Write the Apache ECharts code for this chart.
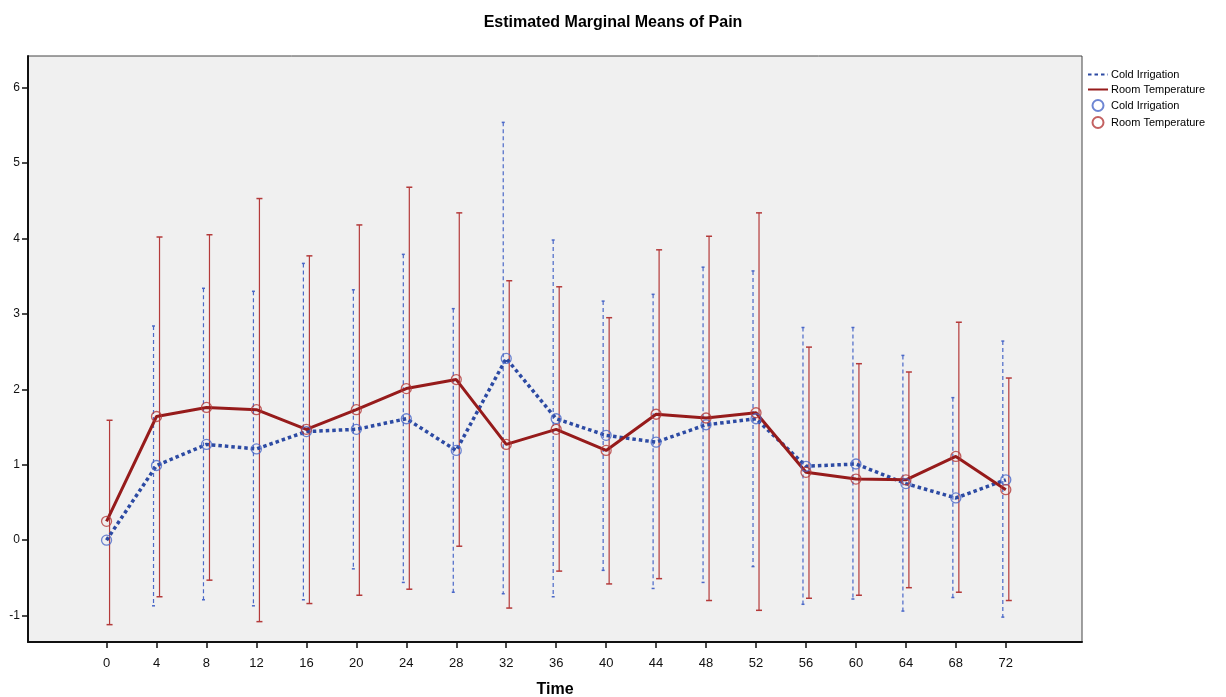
<!DOCTYPE html>
<html>
<head>
<meta charset="utf-8">
<script src="https://cdn.jsdelivr.net/npm/echarts@6/dist/echarts.min.js"></script>
<style>
html,body{margin:0;padding:0;background:#fff;}
#chart{width:1226px;height:697px;}
</style>
</head>
<body>
<div id="chart"></div>
<script>
// ---- data ----
var times = [0, 4, 8, 12, 16, 20, 24, 28, 32, 36, 40, 44, 48, 52, 56, 60, 64, 68, 72];
var coldMean = [0.0, 0.99, 1.27, 1.21, 1.44, 1.47, 1.61, 1.19, 2.41, 1.61, 1.39, 1.30, 1.53, 1.61, 0.98, 1.01, 0.75, 0.56, 0.80];
var roomMean = [0.25, 1.64, 1.76, 1.73, 1.47, 1.73, 2.01, 2.13, 1.27, 1.47, 1.19, 1.67, 1.62, 1.69, 0.90, 0.81, 0.80, 1.11, 0.67];
var coldHi = [null, 2.84, 3.34, 3.30, 3.67, 3.32, 3.79, 3.07, 5.54, 3.98, 3.17, 3.26, 3.62, 3.57, 2.82, 2.82, 2.45, 1.89, 2.64];
var coldLo = [null, -0.87, -0.79, -0.87, -0.79, -0.38, -0.56, -0.69, -0.71, -0.75, -0.40, -0.64, -0.56, -0.35, -0.85, -0.78, -0.94, -0.76, -1.02];
var roomHi = [1.59, 4.02, 4.05, 4.53, 3.77, 4.18, 4.68, 4.34, 3.44, 3.36, 2.95, 3.85, 4.03, 4.34, 2.56, 2.34, 2.23, 2.89, 2.15];
var roomLo = [-1.12, -0.75, -0.53, -1.08, -0.84, -0.73, -0.65, -0.08, -0.90, -0.41, -0.58, -0.51, -0.80, -0.93, -0.77, -0.73, -0.63, -0.69, -0.80];
var yTicks = [-1, 0, 1, 2, 3, 4, 5, 6];
var titleText = 'Estimated Marginal Means of Pain';
var xName = 'Time';
var seriesNames = ['Cold Irrigation', 'Room Temperature'];

// ---- build ----
function pairs(ys) { return times.map(function (t, i) { return [t, ys[i]]; }); }
function bars(lo, hi) {
  var out = [];
  times.forEach(function (t, i) { if (lo[i] != null && hi[i] != null) out.push([t, lo[i], hi[i]]); });
  return out;
}
function errRender(offset, color, dashed, cap) {
  return function (params, api) {
    var x = api.value(0), lo = api.value(1), hi = api.value(2);
    var pH = api.coord([x, hi]), pL = api.coord([x, lo]);
    var px = pH[0] + offset;
    var st = { stroke: color, lineWidth: 1.2, fill: null };
    if (dashed) st.lineDash = [4, 3];
    var cs = { stroke: color, lineWidth: 1.5, fill: null };
    return {
      type: 'group',
      children: [
        { type: 'line', shape: { x1: px, y1: pH[1], x2: px, y2: pL[1] }, style: st },
        { type: 'line', shape: { x1: px - cap, y1: pH[1], x2: px + cap, y2: pH[1] }, style: cs },
        { type: 'line', shape: { x1: px - cap, y1: pL[1], x2: px + cap, y2: pL[1] }, style: cs }
      ]
    };
  };
}

var blueLine = '#2c4aa3', blueMark = '#4a68c8';
var redLine = '#961b1b', redMark = '#b43a3a';
var tickVals = times.slice();
var hidden = { color: 'rgba(0,0,0,0)', borderColor: 'rgba(0,0,0,0)', borderWidth: 0 };

var chart = echarts.init(document.getElementById('chart'));
chart.setOption({
  backgroundColor: '#ffffff',
  animation: false,
  title: {
    text: titleText, left: 'center', top: 10,
    textStyle: { fontFamily: 'Liberation Sans, Arial', fontWeight: 'bold', fontSize: 16, color: '#000' }
  },
  legend: {
    orient: 'vertical', left: 1082, top: 64,
    itemWidth: 20, itemHeight: 11, itemGap: 4,
    textStyle: { fontFamily: 'Liberation Sans, Arial', fontSize: 11, color: '#000', padding: [0, 0, 0, -2] },
    data: [
      { name: seriesNames[0], itemStyle: hidden },
      { name: seriesNames[1], itemStyle: hidden },
      seriesNames[0] + ' ',
      seriesNames[1] + ' '
    ]
  },
  grid: {
    left: 28, right: 144, top: 56, bottom: 55,
    outerBoundsMode: 'none', containLabel: false,
    show: true, backgroundColor: '#f0f0f0', borderColor: '#444', borderWidth: 1
  },
  xAxis: {
    type: 'value', min: -6.29, max: 78.1,
    name: xName, nameLocation: 'middle', nameGap: 40,
    nameTextStyle: { fontFamily: 'Liberation Sans Narrow, Liberation Sans, Arial', fontWeight: 'bold', fontSize: 16, color: '#000' },
    axisLine: { show: true, onZero: false, lineStyle: { color: '#111', width: 2 } },
    axisTick: { show: true, length: 6, customValues: tickVals, lineStyle: { color: '#111', width: 1.5 } },
    axisLabel: { customValues: tickVals, margin: 15, fontFamily: 'Liberation Sans Narrow, Liberation Sans, Arial', fontSize: 13, color: '#111' },
    splitLine: { show: false }
  },
  yAxis: {
    type: 'value', min: -1.35, max: 6.42,
    axisLine: { show: true, onZero: false, lineStyle: { color: '#111', width: 2 } },
    axisTick: { show: true, length: 6, customValues: yTicks, lineStyle: { color: '#111', width: 1.5 } },
    axisLabel: { customValues: yTicks, margin: 8, fontFamily: 'Liberation Sans, Arial', fontSize: 12, color: '#111' },
    splitLine: { show: false }
  },
  series: [
    {
      name: 'errCold', type: 'custom', data: bars(coldLo, coldHi), z: 2,
      renderItem: errRender(-3, blueMark, true, 1.5), silent: true
    },
    {
      name: 'errRoom', type: 'custom', data: bars(roomLo, roomHi), z: 2,
      renderItem: errRender(3, redMark, false, 3), silent: true
    },
    {
      name: seriesNames[0], type: 'line', data: pairs(coldMean), symbol: 'none', z: 3,
      lineStyle: { color: blueLine, width: 3.5, type: [3.5, 3], cap: 'butt' },
      itemStyle: { color: blueLine }
    },
    {
      name: seriesNames[1], type: 'line', data: pairs(roomMean), symbol: 'none', z: 3,
      lineStyle: { color: redLine, width: 3 },
      itemStyle: { color: redLine }
    },
    {
      name: seriesNames[0] + ' ', type: 'scatter', data: pairs(coldMean), symbol: 'circle', symbolSize: 10, z: 4,
      itemStyle: { color: 'rgba(0,0,0,0)', borderColor: blueMark, borderWidth: 1.3 }
    },
    {
      name: seriesNames[1] + ' ', type: 'scatter', data: pairs(roomMean), symbol: 'circle', symbolSize: 10, z: 4,
      itemStyle: { color: 'rgba(0,0,0,0)', borderColor: redMark, borderWidth: 1.3 }
    }
  ]
});
</script>
</body>
</html>
